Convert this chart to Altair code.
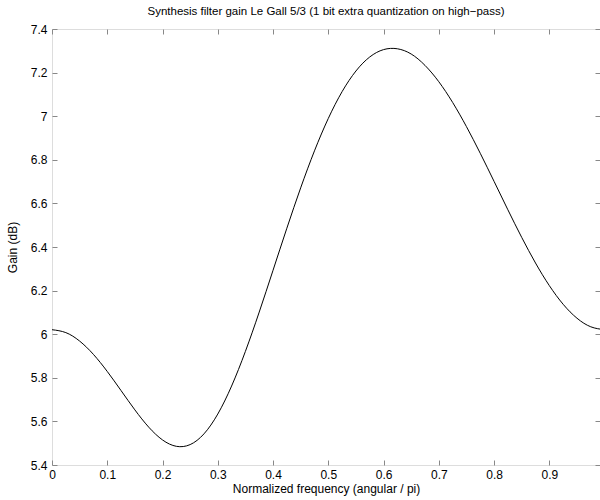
import altair as alt
import pandas as pd

# Normalized frequency (angular / pi)
freq = [0.000, 0.025, 0.050, 0.075, 0.100, 0.125, 0.150, 0.175, 0.200, 0.225,
        0.250, 0.275, 0.300, 0.325, 0.350, 0.375, 0.400, 0.425, 0.450, 0.475,
        0.500, 0.525, 0.550, 0.575, 0.600, 0.625, 0.650, 0.675, 0.700, 0.725,
        0.750, 0.775, 0.800, 0.825, 0.850, 0.875, 0.900, 0.925, 0.950, 0.975,
        1.000]
# Gain (dB)
gain = [6.0206, 6.0073, 5.9685, 5.9073, 5.8291, 5.7413, 5.6528, 5.5738, 5.5149, 5.4857,
        5.4936, 5.5428, 5.6336, 5.7621, 5.9211, 6.1016, 6.2932, 6.4861, 6.6712, 6.8411,
        6.9897, 7.1127, 7.2073, 7.2717, 7.3055, 7.3093, 7.2853, 7.2331, 7.1582, 7.0632,
        6.9523, 6.8299, 6.7010, 6.5706, 6.4442, 6.3266, 6.2229, 6.1373, 6.0734, 6.0340,
        6.0206]

x_ticks = [0, 0.1, 0.2, 0.3, 0.4, 0.5, 0.6, 0.7, 0.8, 0.9]
y_ticks = [5.4, 5.6, 5.8, 6.0, 6.2, 6.4, 6.6, 6.8, 7.0, 7.2, 7.4]

df = pd.DataFrame({"f": freq, "g": gain})

FONT = "Liberation Sans"
xs = alt.Scale(domain=[0, 0.9917], nice=False, zero=False)
ys = alt.Scale(domain=[5.4, 7.4], nice=False, zero=False)

main = alt.Chart(df).mark_line(color="black", strokeWidth=1, clip=True,
                               interpolate="natural").encode(
    x=alt.X("f:Q", scale=xs,
            title="Normalized frequency (angular / pi)",
            axis=alt.Axis(orient="bottom", values=x_ticks, format="~f",
                          offset=-5, tickSize=5, domain=False, grid=False,
                          labelPadding=4, titlePadding=3, labelFlush=False,
                          labelOverlap=False, titleFontWeight="normal",
                          labelFontSize=12, titleFontSize=12,
                          labelColor="black", titleColor="black")),
    y=alt.Y("g:Q", scale=ys, title="Gain (dB)",
            axis=alt.Axis(orient="left", values=y_ticks, format="~f",
                          offset=-5, tickSize=5, domain=False, grid=False,
                          labelPadding=5, titlePadding=11, labelFlush=False,
                          labelOverlap=False, titleFontWeight="normal",
                          labelFontSize=12, titleFontSize=12,
                          labelColor="black", titleColor="black")),
)

ghost = alt.Chart(df).mark_line(opacity=0, clip=True).encode(
    x=alt.X("f:Q", scale=xs, title="",
            axis=alt.Axis(orient="top", values=x_ticks, labels=False,
                          offset=-5, tickSize=5, domain=False, grid=False)),
    y=alt.Y("g:Q", scale=ys, title="",
            axis=alt.Axis(orient="right", values=y_ticks, labels=False,
                          offset=-5, tickSize=5, domain=False, grid=False)),
)

chart = alt.layer(main, ghost).resolve_axis(
    x="independent", y="independent"
).properties(
    width=548, height=436,
    title=alt.TitleParams("Synthesis filter gain Le Gall 5/3 (1 bit extra quantization on high\u2212pass)",
                          font=FONT, fontSize=11.5, fontWeight="normal",
                          color="black", offset=6),
    autosize=alt.AutoSizeParams(type="none"),
    padding={"left": 52, "top": 29, "right": 0, "bottom": 35},
).configure_view(
    stroke="black", strokeWidth=1
).configure_axis(
    labelFont=FONT, titleFont=FONT,
    tickColor="black", tickWidth=1
).configure(background="white")

chart.save("out.html", embed_options={"renderer": "svg", "actions": False})
